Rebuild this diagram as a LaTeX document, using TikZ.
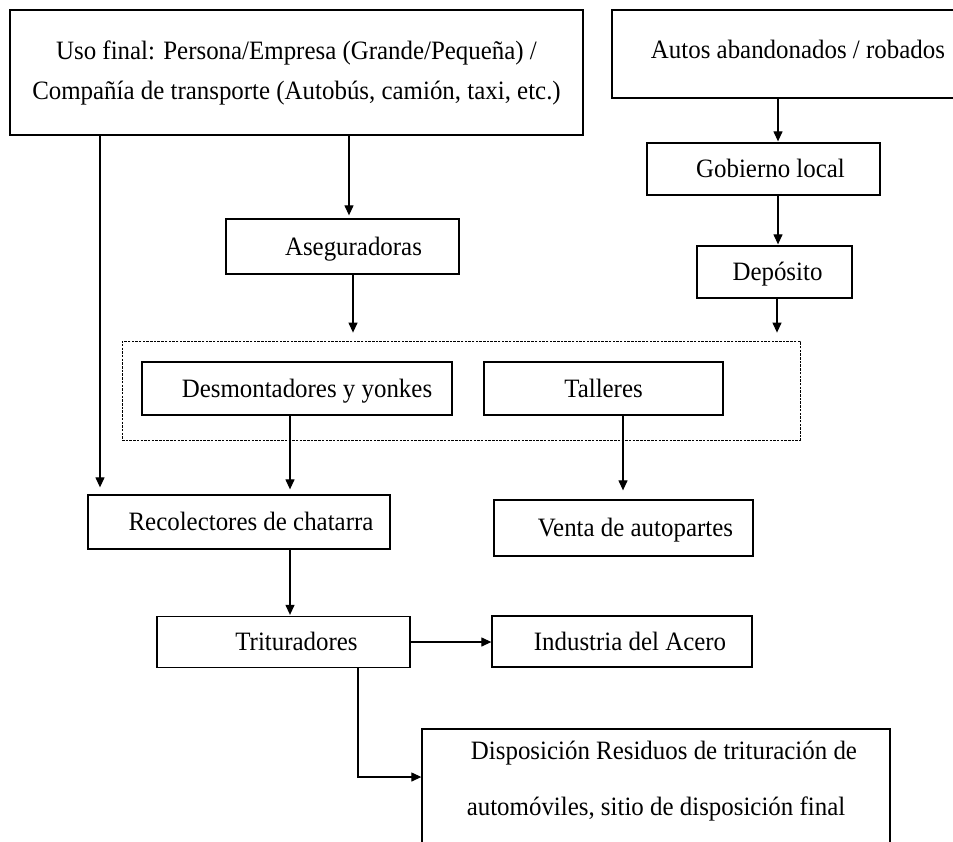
\documentclass[tikz,border=0pt]{standalone}
\usepackage{fontspec}
\setmainfont{Liberation Serif}[FakeStretch=0.94]
\usetikzlibrary{arrows.meta,calc}
\begin{document}
\begin{tikzpicture}[x=1pt,y=-1pt,
  box/.style={draw,line width=1.3pt,inner sep=0pt,anchor=center,
    font=\fontsize{26.5}{40}\selectfont,align=center},
  one/.style={text height=24pt,text depth=6.5pt},
  grp/.style={draw,line width=0.8pt,dash pattern=on 2.5pt off 1.2pt,inner sep=0pt},
  arr/.style={line width=1.2pt,-{Triangle[length=10pt,width=9pt]}}]
\useasboundingbox (0,0) rectangle (953,841);
\clip (0,0) rectangle (953,841);
\fill[white] (0,0) rectangle (953,841);

\node[box,minimum width=573pt,minimum height=125pt] (uso) at (296.5,72.5)
  {Uso final: Persona/Empresa (Grande/Pequeña) /\\Compañía de transporte (Autobús, camión, taxi, etc.)};
\node[box,minimum width=372pt,minimum height=88pt,text height=16pt,text depth=6.5pt] (autos) at (798,54) {Autos abandonados / robados};
\node[box,one,minimum width=233pt,minimum height=52pt] (gob) at (763.5,169) {\hspace*{14pt}Gobierno local};
\node[box,one,minimum width=155pt,minimum height=52pt] (dep) at (774.5,272) {\hspace*{6pt}Depósito};
\node[box,one,minimum width=233pt,minimum height=55pt] (aseg) at (342.5,246.5) {\hspace*{22pt}Aseguradoras};
\node[grp,minimum width=678pt,minimum height=99pt] (grupo) at (461,390.5) {};
\node[box,one,minimum width=310pt,minimum height=53pt] (desm) at (297,388.5) {\hspace*{20pt}Desmontadores y yonkes};
\node[box,one,minimum width=239pt,minimum height=53pt] (tall) at (603.5,388.5) {Talleres};
\node[box,one,minimum width=302pt,minimum height=54pt] (reco) at (239,522) {\hspace*{24pt}Recolectores de chatarra};
\node[box,one,minimum width=259pt,minimum height=56pt] (venta) at (623.5,528) {\hspace*{24pt}Venta de autopartes};
\node[box,one,minimum width=253pt,minimum height=51pt] (trit) at (283.5,642) {\hspace*{26pt}Trituradores};
\node[box,one,minimum width=260pt,minimum height=51pt] (acero) at (622,641.5) {\hspace*{16pt}Industria del Acero};
\node[box,minimum width=468pt,minimum height=172pt,font=\fontsize{26.5}{56}\selectfont] (disp) at (656,815)
  {\hspace*{16pt}Disposición Residuos de trituración de\\automóviles, sitio de disposición final\\\strut};

\coordinate (c100) at (100,0);
\coordinate (c349) at (349,0);
\coordinate (c353) at (353,0);
\coordinate (c778) at (778,0);
\coordinate (c777) at (777,0);
\coordinate (c290) at (290,0);
\coordinate (c623) at (623,0);
\coordinate (c358) at (358,0);
\coordinate (turn) at (358,777);

\draw[arr,shorten >=7pt] (uso.south -| c100) -- (reco.north -| c100);
\draw[arr,shorten >=3pt] (uso.south -| c349) -- (aseg.north -| c349);
\draw[arr,shorten >=8pt] (aseg.south -| c353) -- (grupo.north -| c353);
\draw[arr,shorten >=1pt] (autos.south -| c778) -- (gob.north -| c778);
\draw[arr,shorten >=1pt] (gob.south -| c778) -- (dep.north -| c778);
\draw[arr,shorten >=8pt] (dep.south -| c777) -- (grupo.north -| c777);
\draw[arr,shorten >=5pt] (desm.south -| c290) -- (reco.north -| c290);
\draw[arr,shorten >=9pt] (tall.south -| c623) -- (venta.north -| c623);
\draw[arr,shorten >=1pt] (reco.south -| c290) -- (trit.north -| c290);
\draw[arr] (trit.east) -- (acero.west |- trit.east);
\draw[arr] (trit.south -| c358) -- (turn) -- (disp.west |- turn);
\end{tikzpicture}
\end{document}
